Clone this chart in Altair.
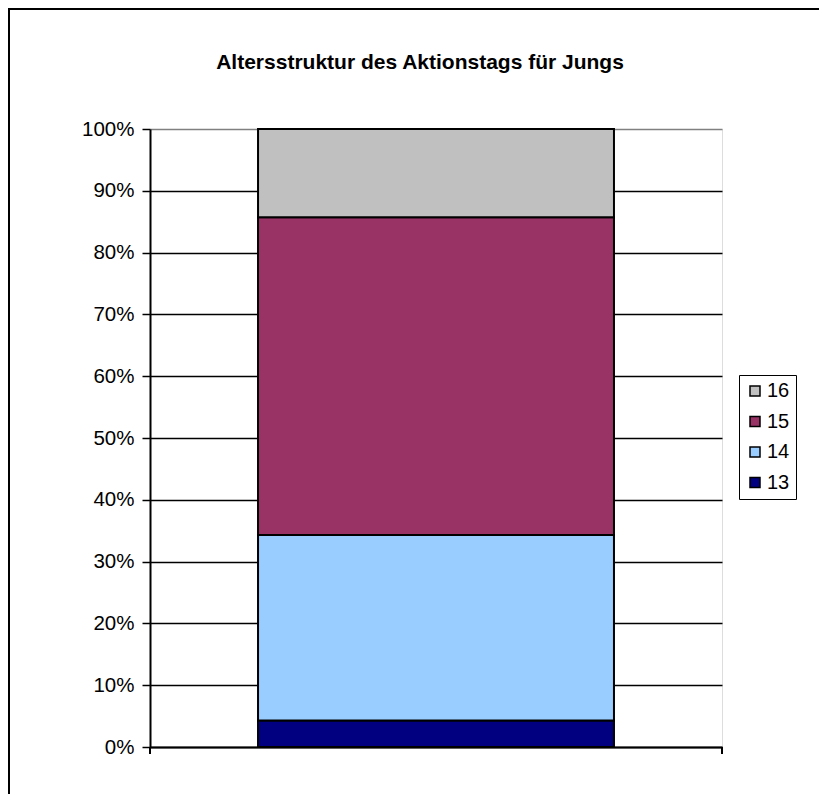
import altair as alt
import pandas as pd

# Age structure of the boys' action day (head counts per age)
ages = ["13", "14", "15", "16"]
counts = [3, 21, 36, 10]
stack_rank = [1, 2, 3, 4]
age_colors = ["#000080", "#99CCFF", "#993366", "#C0C0C0"]
group = ["Jungs", "Jungs", "Jungs", "Jungs"]
y_tick_values = [0, 0.1, 0.2, 0.3, 0.4, 0.5, 0.6, 0.7, 0.8, 0.9, 1.0]
title_text = "Altersstruktur des Aktionstags für Jungs"

FONT = "Liberation Sans"
W, H = 572, 618

df = pd.DataFrame({"gruppe": group, "alter": ages, "anzahl": counts, "rang": stack_rank})

bars = alt.Chart(df).mark_bar(stroke="black", strokeWidth=2).encode(
    x=alt.X(
        "gruppe:N",
        scale=alt.Scale(paddingInner=0, paddingOuter=0.3035),
        axis=alt.Axis(labels=False, ticks=False, title=None, domainColor="black", domainWidth=2),
    ),
    y=alt.Y(
        "anzahl:Q",
        stack="normalize",
        scale=alt.Scale(domain=[0, 1], nice=False),
        axis=alt.Axis(
            values=y_tick_values,
            format=".0%",
            title=None,
            grid=True,
            gridColor=alt.condition("datum.value >= 1", alt.value("#808080"), alt.value("black")),
            gridWidth=1.5,
            domainColor="black",
            domainWidth=2,
            tickColor="black",
            tickWidth=1.5,
            tickSize=8,
            labelFont=FONT,
            labelFontSize=20.5,
            labelColor="black",
            labelPadding=8,
        ),
    ),
    color=alt.Color(
        "alter:N",
        scale=alt.Scale(domain=ages[::-1], range=age_colors[::-1]),
        legend=alt.Legend(
            title=None,
            orient="none",
            legendX=589,
            legendY=246,
            strokeColor="black",
            padding=6,
            rowPadding=10.5,
            symbolType="square",
            symbolSize=100,
            symbolStrokeColor="black",
            symbolStrokeWidth=1.5,
            symbolOpacity=1,
            labelFont=FONT,
            labelFontSize=20,
            labelColor="black",
            labelOffset=2,
        ),
    ),
    order=alt.Order("rang:Q", sort="ascending"),
)

# small ticks below the category axis at both ends of the plot area
tick_df = pd.DataFrame({"k": [0]})
left_tick = alt.Chart(tick_df).mark_rule(color="black", strokeWidth=2).encode(
    x=alt.value(0), y=alt.value(H), y2=alt.value(H + 7)
)
right_tick = alt.Chart(tick_df).mark_rule(color="black", strokeWidth=2).encode(
    x=alt.value(W), y=alt.value(H), y2=alt.value(H + 7)
)

# outer chart frame: left and top edges (the rest lies past the page)
frame_left = alt.Chart(tick_df).mark_rule(color="black", strokeWidth=2).encode(
    x=alt.value(-141), y=alt.value(-121), y2=alt.value(H + 200)
)
frame_top = alt.Chart(tick_df).mark_rule(color="black", strokeWidth=2).encode(
    x=alt.value(-142), x2=alt.value(W + 300), y=alt.value(-120)
)

# chart heading
heading = alt.Chart(tick_df).mark_text(
    text=title_text,
    font=FONT,
    fontSize=21,
    fontWeight="bold",
    color="black",
    align="center",
    baseline="alphabetic",
).encode(x=alt.value(270), y=alt.value(-60))

chart = alt.layer(frame_left, frame_top, bars, left_tick, right_tick, heading).properties(
    width=W,
    height=H,
    autosize=alt.AutoSizeParams(type="none"),
    padding={"left": 150, "top": 129, "right": 97, "bottom": 47},
).configure_view(
    stroke="#808080", strokeWidth=2
).configure_legend(
    strokeWidth=1.5
).configure(background="white")

chart.save("out.html", embed_options={"renderer": "svg", "actions": False})
